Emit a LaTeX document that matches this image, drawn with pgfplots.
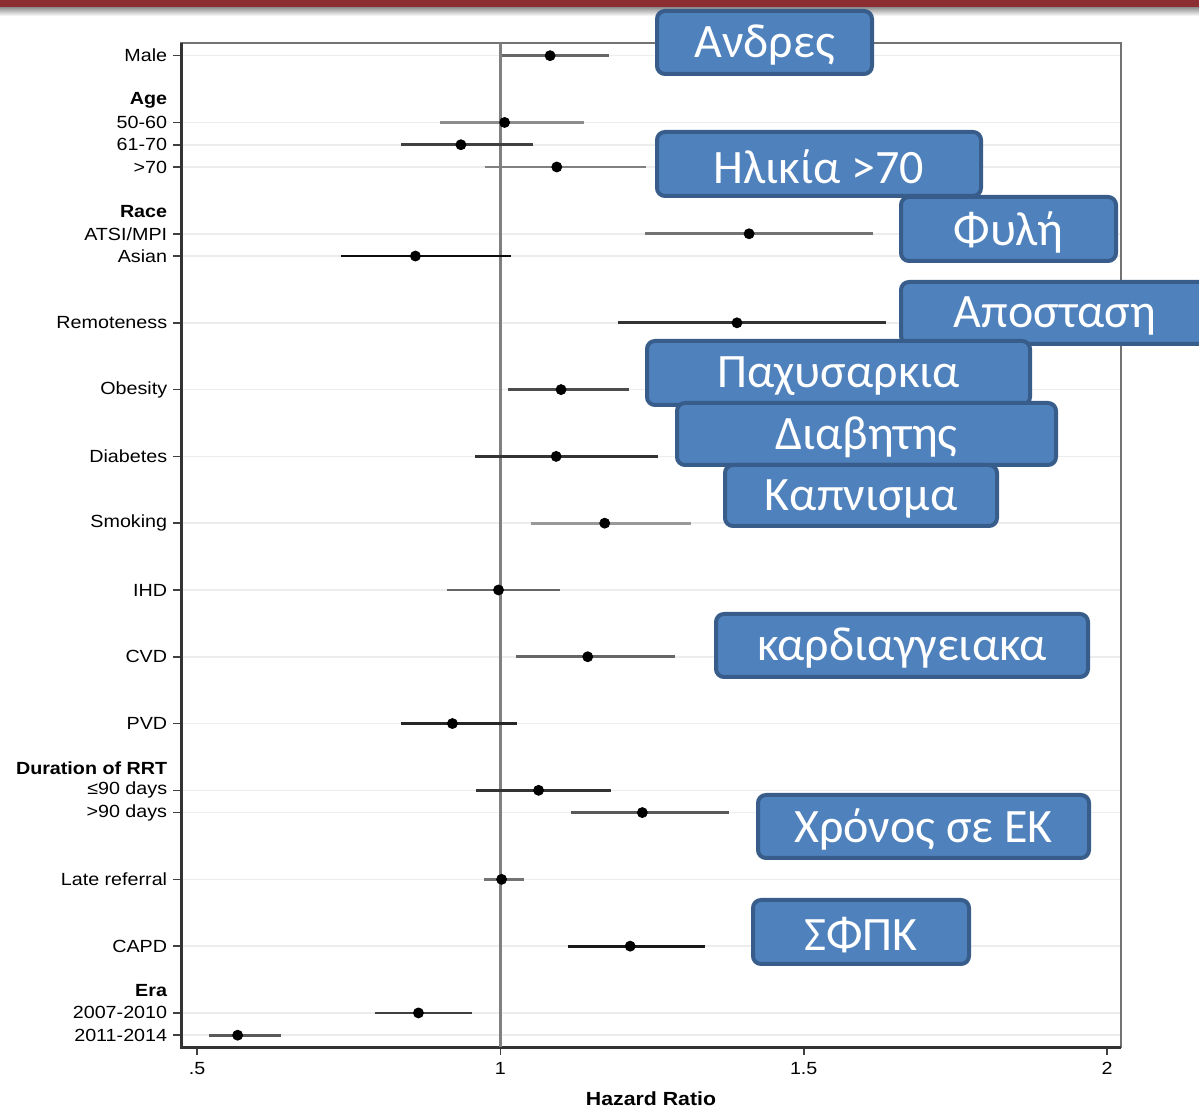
\documentclass[border=0pt]{standalone}
\usepackage{pgfplots}
\pgfplotsset{compat=1.18}
\usepackage{fontspec}
\setmainfont{Liberation Sans}[FakeStretch=1.12]
\newfontfamily\gk{Carlito}
\definecolor{boxfill}{RGB}{79,129,189}
\definecolor{boxedge}{RGB}{56,93,138}
\definecolor{barred}{RGB}{140,45,50}
\newcommand{\gbox}[6]{%
  \draw[rounded corners=4pt, line width=2pt, draw=boxedge, fill=boxfill] (#1,#2) rectangle (#3,#4);
  \node[text=white, font=\gk\fontsize{24}{28}\selectfont, inner sep=0pt] at (#5,{(#2+#4)/2+3}) {#6};}
\begin{document}
\begin{tikzpicture}
\useasboundingbox (0pt,0pt) rectangle (599.5pt,554pt);
\begin{axis}[
  at={(90.5pt,30.5pt)}, anchor=south west,
  scale only axis, width=470pt, height=502pt,
  xmin=0.4736, xmax=2.023, ymin=-0.53, ymax=44.57,
  xtick={0.5,1,1.5,2}, xticklabels={.5,1,1.5,2},
  ytick={44,41,40,39,36,35,32,29,26,23,20,17,14,11,10,7,4,1,0},
  yticklabels={Male,50-60,61-70,>70,ATSI/MPI,Asian,Remoteness,Obesity,Diabetes,Smoking,IHD,CVD,PVD,≤90 days,>90 days,Late referral,CAPD,2007-2010,2011-2014},
  extra y ticks={42,37,12,2},
  extra y tick labels={\textbf{Age},\textbf{Race},\textbf{Duration of RRT},\textbf{Era}},
  extra y tick style={tick style={draw=none}, grid=none},
  ymajorgrids, grid style={black!7, line width=0.8pt},
  tick align=outside, major tick length=4pt,
  tick pos=left,
  tick style={black!75, line width=0.8pt},
  ticklabel style={font=\fontsize{8.8}{10}\selectfont, text=black},
  yticklabel style={xshift=0.6pt},
  axis line style={black!55, line width=1pt},
  xlabel={\textbf{Hazard Ratio}},
  xlabel style={at={(axis description cs:0.5,0)}, anchor=center, yshift=-26pt, font=\fontsize{9.5}{11}\selectfont},
  clip=false,
]
\draw[black!80, line width=1.5pt] (rel axis cs:0,1) -- (rel axis cs:0,0) -- (rel axis cs:1,0);
\addplot[black!50, line width=1.2pt, forget plot] coordinates {(1,-0.53) (1,44.57)};
% confidence intervals
\addplot[black!60, line width=1.4pt] coordinates {(1.003,44) (1.179,44)};
\addplot[black!45, line width=1.4pt] coordinates {(0.901,41) (1.138,41)};
\addplot[black!75, line width=1.4pt] coordinates {(0.836,40) (1.054,40)};
\addplot[black!50, line width=1.4pt] coordinates {(0.974,39) (1.240,39)};
\addplot[black!55, line width=1.4pt] coordinates {(1.238,36) (1.614,36)};
\addplot[black!95, line width=1.4pt] coordinates {(0.738,35) (1.018,35)};
\addplot[black!80, line width=1.4pt] coordinates {(1.194,32) (1.636,32)};
\addplot[black!70, line width=1.4pt] coordinates {(1.012,29) (1.212,29)};
\addplot[black!80, line width=1.4pt] coordinates {(0.959,26) (1.260,26)};
\addplot[black!40, line width=1.4pt] coordinates {(1.050,23) (1.315,23)};
\addplot[black!60, line width=1.4pt] coordinates {(0.912,20) (1.099,20)};
\addplot[black!60, line width=1.4pt] coordinates {(1.026,17) (1.288,17)};
\addplot[black!85, line width=1.4pt] coordinates {(0.836,14) (1.027,14)};
\addplot[black!80, line width=1.4pt] coordinates {(0.960,11) (1.183,11)};
\addplot[black!65, line width=1.4pt] coordinates {(1.117,10) (1.377,10)};
\addplot[black!55, line width=1.4pt] coordinates {(0.973,7) (1.039,7)};
\addplot[black!90, line width=1.4pt] coordinates {(1.112,4) (1.338,4)};
\addplot[black!75, line width=1.4pt] coordinates {(0.793,1) (0.954,1)};
\addplot[black!65, line width=1.4pt] coordinates {(0.519,0) (0.638,0)};
% hazard ratios
\addplot[only marks, mark=*, mark size=2.5pt, black] coordinates {
(1.082,44) (1.007,41) (0.935,40) (1.093,39) (1.410,36) (0.860,35)
(1.390,32) (1.100,29) (1.092,26) (1.172,23) (0.997,20) (1.144,17)
(0.921,14) (1.063,11) (1.234,10) (1.002,7) (1.214,4) (0.865,1) (0.567,0)};
\end{axis}
% slide header bar
\shade[top color=black!45, bottom color=white] (0pt,546pt) rectangle (599.5pt,550.5pt);
\fill[barred] (0pt,550.5pt) rectangle (599.5pt,554pt);
\begin{scope}[x=0.5pt, y=-0.5pt, yshift=554pt]
\gbox{657}{11}{872}{74}{764.5}{Ανδρες}
\gbox{657}{132}{981}{196}{819}{Ηλικία >70}
\gbox{901}{197}{1116}{261}{1008.5}{Φυλή}
\gbox{901}{282}{1215}{344}{1055}{Αποσταση}
\gbox{647}{341}{1030}{405}{838.5}{Παχυσαρκια}
\gbox{677}{403}{1056}{465}{866.5}{Διαβητης}
\gbox{725}{465}{997}{526}{861}{Καπνισμα}
\gbox{716}{614}{1088}{677}{902}{καρδιαγγειακα}
\gbox{758}{795}{1089}{858}{923.5}{Χρόνος σε ΕΚ}
\gbox{753}{900}{969}{964}{861}{ΣΦΠΚ}
\end{scope}
\end{tikzpicture}
\end{document}
